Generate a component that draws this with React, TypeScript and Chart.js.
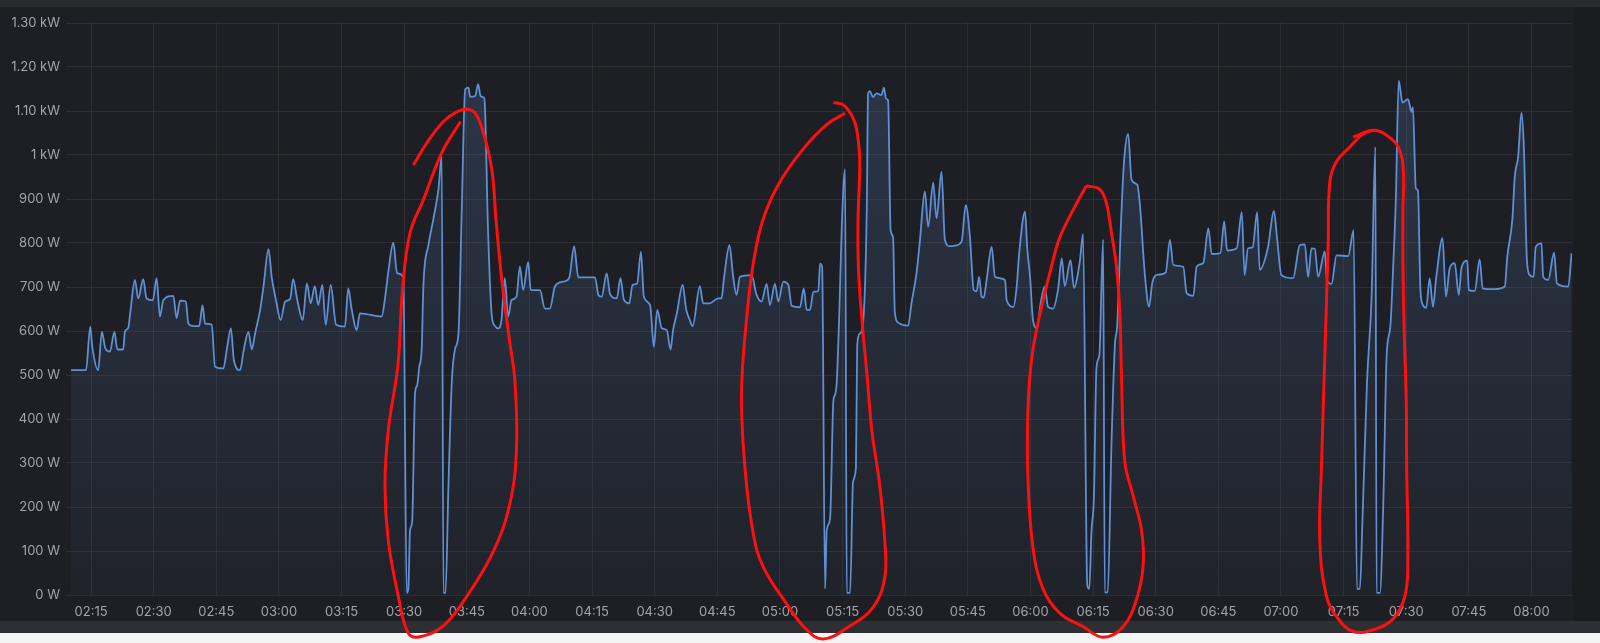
import React, { useEffect, useRef } from 'react';
import { Chart, registerables } from 'chart.js';

Chart.register(...registerables);

// Power series: time in minutes since midnight, value in watts
const powerTimes = [
  130.2, 133.8, 134.8, 135.3, 136.7, 137.6, 138.4, 139.5, 140.6, 141.3, 142.7, 143.1, 143.9, 144.5, 145.5, 146.3, 147.5, 148.3, 149.8, 150.7,
  151.5, 152.3, 154.7, 155.5, 156.3, 157.7, 158.3, 159.5, 160.9, 161.7, 162.3, 163.9, 164.7, 166.7, 167.5, 168.5, 169.2, 170.7, 171.5, 172.7,
  173.5, 174.3, 175.5, 176.3, 177.5, 178.3, 179.3, 180.4, 181.5, 182.7, 183.4, 184.4, 185.7, 186.7, 187.6, 188.6, 189.4, 190.4, 191.2, 192.4,
  193.7, 195.8, 196.6, 197.4, 198.6, 199.4, 204.6, 205.4, 206.2, 207.4, 208.3, 209.8, 210.6, 211.0, 211.4, 211.9, 212.6, 213.1, 213.6, 214.2,
  214.6, 215.8, 217.0, 218.2, 219.0, 219.4, 219.9, 220.6, 221.4, 222.2, 223.0, 223.8, 224.6, 225.4, 225.8, 227.0, 227.7, 228.3, 229.1, 229.3,
  230.1, 231.0, 231.7, 232.5, 233.3, 234.1, 234.9, 235.7, 236.9, 237.7, 238.5, 239.7, 240.3, 242.5, 243.7, 244.9, 246.1, 248.1, 249.5, 250.7,
  251.7, 255.7, 256.5, 257.3, 258.5, 259.3, 260.9, 261.8, 262.6, 263.9, 264.7, 265.8, 266.7, 267.4, 268.9, 269.8, 270.6, 271.7, 272.9, 273.8,
  274.4, 275.3, 276.7, 277.5, 278.4, 279.1, 280.8, 281.6, 283.1, 285.2, 286.0, 286.6, 287.9, 288.8, 289.6, 290.4, 293.2, 294.4, 295.6, 296.8,
  297.6, 298.8, 299.6, 300.8, 302.0, 302.8, 304.8, 305.7, 306.4, 307.2, 308.0, 309.2, 309.6, 310.1, 310.8, 311.2, 312.0, 312.8, 313.2, 313.6,
  314.2, 314.8, 315.6, 316.0, 316.8, 317.5, 318.2, 318.5, 319.1, 319.9, 320.8, 321.1, 321.5, 322.3, 323.1, 324.3, 324.9, 325.4, 325.9, 326.5,
  327.1, 327.5, 328.3, 330.7, 331.5, 332.7, 333.5, 334.7, 335.5, 336.7, 337.5, 338.7, 339.5, 340.7, 341.9, 343.5, 344.5, 345.5, 346.4, 347.1,
  347.7, 348.3, 348.8, 349.5, 350.7, 351.5, 353.9, 354.3, 355.9, 356.7, 357.3, 358.7, 359.2, 359.9, 360.6, 361.6, 362.3, 363.4, 364.2, 365.4,
  366.6, 367.5, 368.2, 369.6, 370.4, 371.8, 372.6, 373.6, 374.1, 374.6, 375.2, 375.8, 376.5, 377.4, 377.8, 378.5, 379.4, 380.2, 380.8, 381.6,
  382.4, 383.4, 384.2, 385.6, 386.2, 387.4, 388.4, 389.2, 390.6, 392.4, 393.4, 394.2, 396.6, 397.4, 399.0, 399.8, 401.4, 402.6, 403.4, 405.5,
  406.4, 407.1, 409.4, 410.6, 411.3, 412.1, 413.2, 414.3, 414.9, 416.9, 418.3, 419.1, 420.1, 422.9, 424.5, 425.7, 426.5, 427.3, 428.1, 428.9,
  430.5, 431.0, 432.1, 433.3, 436.1, 437.4, 438.2, 438.9, 439.5, 440.6, 441.7, 442.6, 442.9, 443.7, 444.5, 445.3, 446.2, 446.9, 447.5, 448.2,
  449.1, 450.4, 451.3, 451.6, 452.3, 452.8, 453.4, 454.0, 454.8, 455.6, 456.4, 457.2, 458.7, 459.5, 460.4, 461.6, 462.6, 463.2, 464.6, 465.0,
  466.4, 467.6, 468.3, 471.2, 473.6, 474.2, 475.4, 476.0, 476.8, 477.6, 478.2, 478.9, 479.6, 480.5, 481.0, 482.4, 482.8, 484.0, 485.4, 486.1,
  488.8, 489.6,
];

const powerWatts = [
  511, 511, 610, 564, 511, 598, 561, 553, 598, 558, 558, 598, 607, 651, 716, 674, 718, 674, 670, 720,
  633, 670, 680, 629, 669, 667, 617, 611, 611, 659, 617, 614, 519, 515, 557, 606, 534, 511, 553, 598,
  558, 595, 648, 701, 786, 720, 670, 625, 667, 673, 718, 670, 625, 708, 663, 702, 659, 705, 614, 705,
  614, 610, 697, 651, 602, 640, 633, 674, 735, 801, 731, 723, 5, 14, 148, 165, 459, 476, 518, 560,
  703, 795, 855, 922, 998, 5, 5, 249, 484, 560, 594, 880, 1149, 1153, 1132, 1134, 1161, 1134, 1130, 1118,
  823, 633, 612, 606, 625, 720, 633, 670, 678, 746, 693, 757, 693, 693, 651, 651, 701, 712, 720, 792,
  722, 722, 682, 678, 731, 684, 674, 720, 672, 663, 705, 708, 780, 678, 659, 564, 648, 606, 602, 558,
  602, 640, 705, 651, 625, 611, 702, 663, 663, 674, 674, 720, 795, 723, 682, 723, 727, 682, 667, 707,
  659, 707, 667, 712, 705, 657, 654, 697, 648, 648, 689, 691, 753, 745, 14, 148, 173, 442, 455, 484,
  636, 837, 968, 5, 5, 257, 291, 568, 594, 619, 880, 1140, 1145, 1132, 1140, 1136, 1153, 1128, 1124, 829,
  812, 644, 619, 612, 663, 731, 803, 917, 837, 937, 856, 962, 807, 793, 794, 803, 886, 814, 693, 690,
  723, 678, 676, 716, 791, 723, 716, 670, 655, 701, 777, 871, 791, 723, 625, 606, 655, 701, 655, 651,
  694, 765, 702, 761, 698, 757, 820, 22, 14, 143, 225, 515, 546, 808, 6, 6, 342, 565, 616, 827,
  984, 1048, 944, 932, 888, 728, 655, 711, 728, 733, 807, 750, 746, 686, 680, 746, 755, 833, 775, 777,
  849, 783, 788, 870, 727, 788, 790, 870, 739, 791, 873, 807, 727, 720, 795, 797, 723, 788, 787, 723,
  781, 716, 707, 772, 770, 829, 14, 14, 165, 484, 678, 1018, 5, 5, 207, 543, 611, 753, 896, 1169,
  1119, 1127, 1098, 1109, 924, 919, 693, 659, 653, 720, 655, 723, 811, 678, 742, 754, 682, 742, 760, 693,
  691, 763, 697, 695, 701, 769, 852, 951, 996, 1096, 1011, 761, 727, 723, 791, 799, 723, 716, 778, 708,
  701, 777,
];

// Hand-drawn red annotation loops (time in minutes since midnight, watts)
const loop1Times = [212.2, 215.4, 219.4, 222.6, 225.0, 227.0, 228.9, 231.0, 232.0, 233.3, 235.3, 236.5, 236.9, 235.3, 231.3, 225.0, 219.4, 213.8, 211.0, 208.6, 206.2, 205.4, 206.2, 208.5, 209.6, 211.4, 214.6, 219.0, 223.5];
const loop1Watts = [977, 1027, 1076, 1098, 1104, 1095, 1053, 966, 852, 723, 573, 489, 333, 207, 98, -3, -70, -95, -87, -3, 123, 249, 375, 523, 693, 823, 898, 1005, 1076];

const loop2Times = [315.6, 311.2, 305.6, 300.0, 296.0, 293.6, 292.0, 290.8, 291.6, 293.6, 296.0, 301.6, 306.4, 310.4, 316.8, 322.3, 325.1, 325.1, 323.9, 322.0, 320.9, 319.7, 318.8, 318.7, 319.1, 318.4, 317.5, 315.2, 312.8];
const loop2Watts = [1095, 1069, 1014, 939, 855, 753, 627, 459, 291, 140, 64, -20, -79, -100, -70, -28, 39, 123, 249, 375, 495, 618, 743, 852, 989, 1057, 1084, 1114, 1119];

const loop3Times = [373.4, 376.6, 378.2, 379.4, 380.6, 381.4, 381.8, 382.6, 384.6, 386.6, 387.0, 385.4, 382.2, 377.4, 372.6, 367.0, 363.0, 360.6, 359.4, 359.4, 360.3, 362.3, 365.1, 367.0, 370.6, 373.4];
const loop3Watts = [930, 922, 890, 823, 746, 640, 499, 303, 225, 147, 68, -10, -72, -96, -72, -41, 14, 108, 264, 420, 538, 640, 749, 812, 882, 930];

const loop4Times = [437.3, 442.1, 445.3, 448.1, 449.3, 449.2, 449.2, 449.5, 450.0, 450.1, 450.4, 449.7, 446.9, 442.1, 437.3, 433.7, 430.9, 429.3, 429.7, 430.5, 431.3, 431.7, 433.3, 436.5, 439.7, 442.1];
const loop4Watts = [1041, 1056, 1045, 1018, 966, 875, 761, 602, 443, 291, 82, -2, -54, -79, -83, -54, -3, 123, 291, 543, 795, 939, 985, 1018, 1048, 1056];

const xTickLabels = ['02:15', '02:30', '02:45', '03:00', '03:15', '03:30', '03:45', '04:00', '04:15', '04:30', '04:45', '05:00', '05:15', '05:30', '05:45', '06:00', '06:15', '06:30', '06:45', '07:00', '07:15', '07:30', '07:45', '08:00'];

const xMin = 129.0;
const xMax = 489.7;
const yMax = 1300;
const yStep = 100;

const toMinutes = (label: string) => {
  const [h, m] = label.split(':').map(Number);
  return h * 60 + m;
};
const fmtTime = (v: number) => {
  const h = Math.floor(v / 60);
  const m = Math.round(v - h * 60);
  return String(h).padStart(2, '0') + ':' + String(m).padStart(2, '0');
};
const fmtWatts = (v: number) => {
  if (v < 1000) return `${v} W`;
  if (v === 1000) return '1 kW';
  return `${(v / 1000).toFixed(2)} kW`;
};

const zip = (t: number[], w: number[]) => t.map((x, i) => ({ x, y: w[i] }));

const bgPlugin = {
  id: 'panelBg',
  beforeDraw(chart: any) {
    const { ctx, width, height } = chart;
    ctx.save();
    ctx.fillStyle = '#1e1f24';
    ctx.fillRect(0, 0, width, height);
    ctx.fillStyle = '#1b1c20';
    ctx.fillRect(1573, 0, width - 1573, height);
    ctx.fillStyle = '#2a2b2f';
    ctx.fillRect(0, 0, width, 7);
    ctx.fillStyle = '#2e2f33';
    ctx.fillRect(0, 621, width, 12);
    ctx.fillStyle = '#f4f4f4';
    ctx.fillRect(0, 633, width, height - 633);
    ctx.restore();
  },
};

export default function App() {
  const ref = useRef<HTMLCanvasElement | null>(null);

  useEffect(() => {
    document.body.style.margin = '0';
    const canvas = ref.current;
    if (!canvas) return;

    const loopStyle = {
      type: 'line' as const,
      borderColor: '#ff1010',
      borderWidth: 3,
      pointRadius: 0,
      fill: false,
      tension: 0.4,
      cubicInterpolationMode: 'default' as const,
      capBezierPoints: false,
      clip: false as any,
      order: 0,
    };

    const chart = new Chart(canvas, {
      type: 'line',
      data: {
        datasets: [
          { ...loopStyle, data: zip(loop1Times, loop1Watts) },
          { ...loopStyle, data: zip(loop2Times, loop2Watts) },
          { ...loopStyle, data: zip(loop3Times, loop3Watts) },
          { ...loopStyle, data: zip(loop4Times, loop4Watts) },
          {
            data: zip(powerTimes, powerWatts),
            borderColor: '#5f8fd4',
            borderWidth: 1.8,
            pointRadius: 0,
            cubicInterpolationMode: 'monotone',
            fill: 'origin',
            order: 1,
            backgroundColor: (c: any) => {
              const area = c.chart.chartArea;
              if (!area) return 'rgba(95,143,212,0.1)';
              const g = c.chart.ctx.createLinearGradient(0, area.top, 0, area.bottom);
              g.addColorStop(0, 'rgba(95,143,212,0.22)');
              g.addColorStop(1, 'rgba(95,143,212,0.03)');
              return g;
            },
          },
        ],
      },
      options: {
        animation: false,
        responsive: false,
        devicePixelRatio: 1,
        events: [],
        layout: { padding: { top: 23, right: 28, left: 0, bottom: 0 } },
        plugins: { legend: { display: false }, tooltip: { enabled: false } },
        scales: {
          x: {
            type: 'linear',
            min: xMin,
            max: xMax,
            border: { display: false },
            grid: { color: 'rgba(255,255,255,0.065)', drawTicks: false, lineWidth: 1 },
            afterBuildTicks: (scale: any) => {
              scale.ticks = xTickLabels.map((l) => ({ value: toMinutes(l) }));
            },
            afterFit: (scale: any) => {
              scale.height = 48;
            },
            ticks: {
              autoSkip: false,
              maxRotation: 0,
              padding: 9,
              color: '#a3a4aa',
              font: { family: 'Inter, Roboto, sans-serif', size: 13 },
              callback: (v: any) => fmtTime(Number(v)),
            },
          },
          y: {
            min: 0,
            max: yMax,
            border: { display: false },
            grid: { color: 'rgba(255,255,255,0.065)', drawTicks: false, lineWidth: 1 },
            afterFit: (scale: any) => {
              scale.width = 66;
            },
            ticks: {
              stepSize: yStep,
              padding: 6,
              color: '#a3a4aa',
              font: { family: 'Inter, Roboto, sans-serif', size: 13 },
              callback: (v: any) => fmtWatts(Number(v)),
            },
          },
        },
      },
      plugins: [bgPlugin],
    } as any);

    return () => chart.destroy();
  }, []);

  return (
    <div style={{ position: 'absolute', left: 0, top: 0, width: 1600, height: 643 }}>
      <canvas ref={ref} width={1600} height={643} style={{ display: 'block', width: 1600, height: 643 }} />
    </div>
  );
}
